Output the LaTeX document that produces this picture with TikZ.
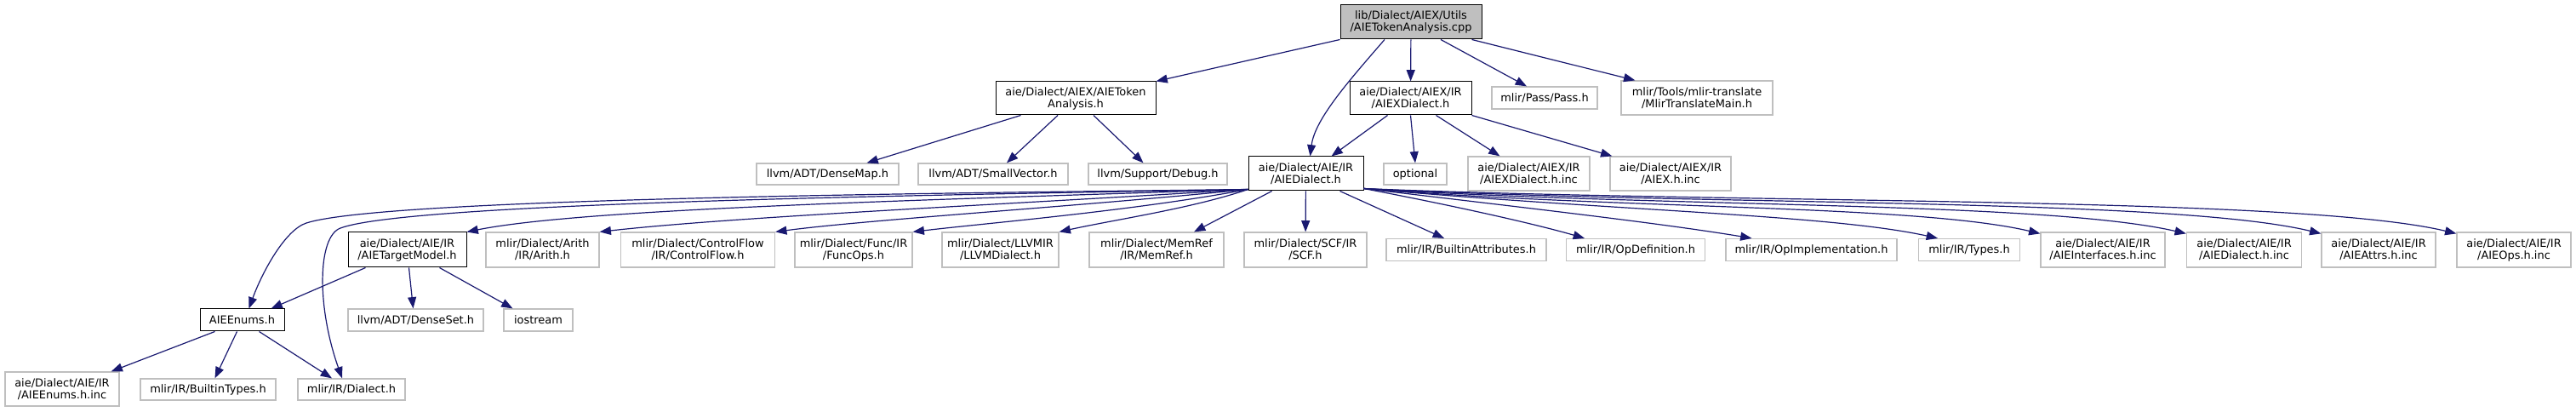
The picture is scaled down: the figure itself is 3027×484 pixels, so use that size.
\documentclass[tikz,border=0pt]{standalone}
\usepackage{fontspec}
\setmainfont{DejaVu Sans}
\usetikzlibrary{arrows.meta,calc}
\definecolor{edgeblue}{HTML}{191970}
\definecolor{boxgray}{HTML}{BFBFBF}
\definecolor{rootgray}{HTML}{BFBFBF}
\tikzset{
  sz/.style 2 args={minimum width=#1*0.75pt, minimum height=#2*0.75pt},
  anybox/.style={rectangle, inner sep=0pt, align=center, fill=white,
    font=\fontsize{9.7pt}{10.5pt}\selectfont},
  filebox/.style={anybox, draw=black, line width=0.75pt},
  rootbox/.style={anybox, draw=black, line width=0.75pt, fill=rootgray},
  extbox/.style={anybox, draw=boxgray, line width=0.9pt},
  dep/.style={draw=edgeblue, line width=0.9pt,
    -{Triangle[length=10pt,width=7.5pt,fill=edgeblue]}},
}
\begin{document}
\begin{tikzpicture}[x=0.75pt,y=-0.75pt]
\useasboundingbox (0,0) rectangle (3027,484);
% row 0
\node[rootbox, sz={166}{40}] (root) at (1658,26) {lib/Dialect/AIEX/Utils\\/AIETokenAnalysis.cpp};
% row 1
\node[filebox, sz={188}{39}] (tok) at (1264,115.5) {aie/Dialect/AIEX/AIEToken\\Analysis.h};
\node[filebox, sz={143}{39}] (xd) at (1657.5,115.5) {aie/Dialect/AIEX/IR\\/AIEXDialect.h};
\node[extbox, sz={124}{26}] (pass) at (1815,115) {mlir/Pass/Pass.h};
\node[extbox, sz={178}{40}] (mlirtr) at (1994,115) {mlir/Tools/mlir-translate\\/MlirTranslateMain.h};
% row 2
\node[extbox, sz={167}{25}] (densemap) at (972.5,204.5) {llvm/ADT/DenseMap.h};
\node[extbox, sz={176}{25}] (smallvec) at (1167,204.5) {llvm/ADT/SmallVector.h};
\node[extbox, sz={163}{25}] (debug) at (1360.5,204.5) {llvm/Support/Debug.h};
\node[filebox, sz={135}{40}] (aied) at (1534.5,204) {aie/Dialect/AIE/IR\\/AIEDialect.h};
\node[extbox, sz={74}{25}] (optional) at (1663,204.5) {optional};
\node[extbox, sz={143}{40}] (xdinc) at (1796.5,204) {aie/Dialect/AIEX/IR\\/AIEXDialect.h.inc};
\node[extbox, sz={142}{40}] (aiexinc) at (1963,204) {aie/Dialect/AIEX/IR\\/AIEX.h.inc};
% row 3
\node[filebox, sz={139}{41}] (tm) at (478.5,293.5) {aie/Dialect/AIE/IR\\/AIETargetModel.h};
\node[extbox, sz={133}{41}] (arith) at (637.5,293.5) {mlir/Dialect/Arith\\/IR/Arith.h};
\node[extbox, sz={181}{41}] (cf) at (820,293.5) {mlir/Dialect/ControlFlow\\/IR/ControlFlow.h};
\node[extbox, sz={138}{41}] (func) at (1003,293.5) {mlir/Dialect/Func/IR\\/FuncOps.h};
\node[extbox, sz={137}{41}] (llvm) at (1175.5,293.5) {mlir/Dialect/LLVMIR\\/LLVMDialect.h};
\node[extbox, sz={158}{41}] (memref) at (1359,293.5) {mlir/Dialect/MemRef\\/IR/MemRef.h};
\node[extbox, sz={144}{41}] (scf) at (1534,293.5) {mlir/Dialect/SCF/IR\\/SCF.h};
\node[extbox, sz={188}{26}] (battr) at (1723,293.5) {mlir/IR/BuiltinAttributes.h};
\node[extbox, sz={163}{26}] (opdef) at (1922,293.5) {mlir/IR/OpDefinition.h};
\node[extbox, sz={201}{26}] (opimpl) at (2128.5,293.5) {mlir/IR/OpImplementation.h};
\node[extbox, sz={119}{26}] (types) at (2314,293.5) {mlir/IR/Types.h};
\node[extbox, sz={146}{41}] (ifinc) at (2471,293.5) {aie/Dialect/AIE/IR\\/AIEInterfaces.h.inc};
\node[extbox, sz={135}{41}] (dinc) at (2637,293.5) {aie/Dialect/AIE/IR\\/AIEDialect.h.inc};
\node[extbox, sz={134}{41}] (attrinc) at (2795,293.5) {aie/Dialect/AIE/IR\\/AIEAttrs.h.inc};
\node[extbox, sz={134}{41}] (opsinc) at (2954,293.5) {aie/Dialect/AIE/IR\\/AIEOps.h.inc};
% row 4
\node[filebox, sz={99}{26}] (enums) at (284.5,376) {AIEEnums.h};
\node[extbox, sz={159}{26}] (denseset) at (488.5,376) {llvm/ADT/DenseSet.h};
\node[extbox, sz={81}{26}] (iostream) at (632.5,376) {iostream};
% row 5
\node[extbox, sz={134}{40}] (enumsinc) at (73,457) {aie/Dialect/AIE/IR\\/AIEEnums.h.inc};
\node[extbox, sz={159}{25}] (btypes) at (244.5,457.5) {mlir/IR/BuiltinTypes.h};
\node[extbox, sz={126}{25}] (dialect) at (413,457.5) {mlir/IR/Dialect.h};

\coordinate (aiedL) at ($(aied.south west)+(0,-2)$);
\coordinate (aiedR) at ($(aied.south east)+(0,-3)$);

% root edges
\draw[dep] (root.south west) -- (tok.north east);
\draw[dep] ($(root.south)+(-31,0)$) .. controls (1585,95) and (1545,140) .. ($(aied.north)+(5,0)$);
\draw[dep] (root) -- (xd);
\draw[dep] ($(root.south)+(35,0)$) -- ($(pass.north)+(-21,0)$);
\draw[dep] ($(root.south east)+(-12,0)$) -- ($(mlirtr.north west)+(17,0)$);
% tok edges
\draw[dep] ($(tok.south west)+(30,0)$) -- ($(densemap.north)+(46,0)$);
\draw[dep] ($(tok.south)+(-21,0)$) -- ($(smallvec.north)+(16,0)$);
\draw[dep] ($(tok.south)+(21,0)$) -- ($(debug.north)+(-17,0)$);
% xd edges
\draw[dep] ($(xd.south)+(-27,0)$) -- ($(aied.north)+(30,0)$);
\draw[dep] (xd.south) -- (optional.north);
\draw[dep] ($(xd.south)+(30,0)$) -- ($(xdinc.north)+(-34,0)$);
\draw[dep] (xd.south east) -- ($(aiexinc.north west)+(3,0)$);
% aied edges, left
\draw[dep] (aiedL) .. controls (1100,227) and (450,233) .. (360,262) .. controls (335,270) and (308,320) .. ($(enums.north)+(8,0)$);
\draw[dep] (aiedL) .. controls (1100,229) and (480,238) .. (400,268) .. controls (373,278) and (372,360) .. ($(dialect.north)+(-11,0)$);
\draw[dep] (aiedL) .. controls (1050,236) and (680,246) .. (tm.north east);
\draw[dep] (aiedL) .. controls (1150,242) and (860,255) .. (arith.north east);
\draw[dep] (aiedL) .. controls (1250,244) and (1020,258) .. (cf.north east);
\draw[dep] (aiedL) .. controls (1330,248) and (1160,262) .. (func.north east);
\draw[dep] (aiedL) .. controls (1400,245) and (1310,258) .. (llvm.north east);
\draw[dep] ($(aied.south)+(-40,0)$) -- ($(memref.north)+(44,0)$);
\draw[dep] (aied) -- (scf);
% aied edges, right
\draw[dep] ($(aied.south)+(40,0)$) -- ($(battr.north)+(-26,0)$);
\draw[dep] (aiedR) .. controls (1700,240) and (1800,262) .. ($(opdef.north)+(-60,0)$);
\draw[dep] (aiedR) .. controls (1800,245) and (1950,262) .. ($(opimpl.north)+(-70,0)$);
\draw[dep] (aiedR) .. controls (1900,248) and (2150,252) .. ($(types.north)+(-37,0)$);
\draw[dep] (aiedR) .. controls (1900,246) and (2250,240) .. ($(ifinc.north west)+(0,2)$);
\draw[dep] (aiedR) .. controls (1950,244) and (2400,236) .. ($(dinc.north west)+(0,2)$);
\draw[dep] (aiedR) .. controls (2000,242) and (2550,232) .. ($(attrinc.north west)+(0,2)$);
\draw[dep] (aiedR) .. controls (2050,240) and (2700,230) .. ($(opsinc.north west)+(0,2)$);
% tm edges
\draw[dep] ($(tm.south west)+(21,0)$) -- ($(enums.north)+(34,0)$);
\draw[dep] ($(tm.south)+(2,0)$) -- ($(denseset.north)+(-3,0)$);
\draw[dep] ($(tm.south)+(38,0)$) -- ($(iostream.north)+(-30,0)$);
% enums edges
\draw[dep] ($(enums.south)+(-32,0)$) -- ($(enumsinc.north east)+(-10,0)$);
\draw[dep] ($(enums.south)+(-6,0)$) -- ($(btypes.north)+(8,0)$);
\draw[dep] ($(enums.south)+(20,0)$) -- ($(dialect.north)+(-23,0)$);
\end{tikzpicture}
\end{document}
